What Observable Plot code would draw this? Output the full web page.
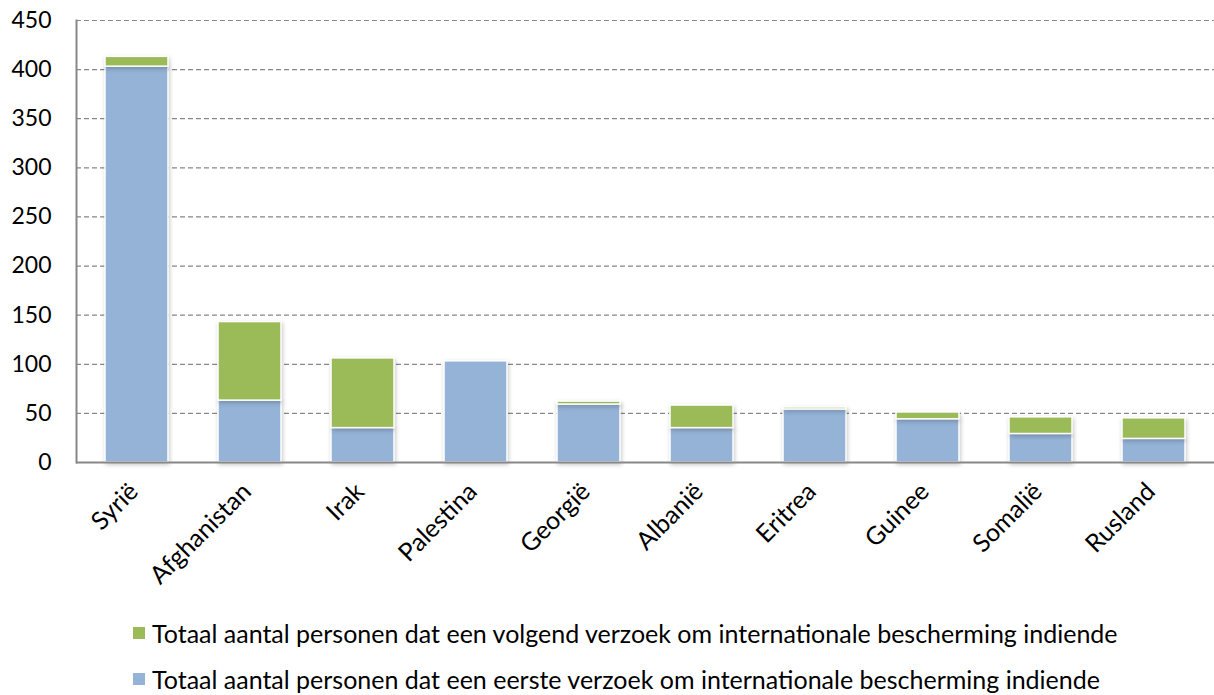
<!DOCTYPE html>
<html>
<head>
<meta charset="utf-8">
<script src="https://cdn.jsdelivr.net/npm/d3@7"></script>
<script src="https://cdn.jsdelivr.net/npm/@observablehq/plot@0.6"></script>
<style>
  body { margin: 0; background: #fff; font-family: Lato, "Open Sans", sans-serif; overflow: hidden; }
  #chart svg { display: block; }
  #chart g[aria-label="bar"] rect { filter: drop-shadow(1px 2px 2px rgba(0,0,0,0.22)); }
  .legend { position: relative; height: 95px; font-size: 25px; color: #000; }
  .legend .row { position: absolute; left: 133px; display: flex; align-items: center; white-space: nowrap; line-height: 28px; }
  .legend .sw { width: 12px; height: 12px; margin-right: 7px; }
</style>
</head>
<body>
<div id="chart"></div>
<div class="legend">
  <div class="row" style="top: 19px;"><span class="sw" style="background:#9BBB59"></span><span id="l1"></span></div>
  <div class="row" style="top: 65px;"><span class="sw" style="background:#95B3D7"></span><span id="l2"></span></div>
</div>
<script>
const countries = ["Syrië", "Afghanistan", "Irak", "Palestina", "Georgië", "Albanië", "Eritrea", "Guinee", "Somalië", "Rusland"];
const eerste  = [403, 63, 35, 103, 59, 35, 54, 44, 29, 24];
const volgend = [10, 80, 71, 0, 3, 23, 2, 7, 17, 21];
const seriesNames = [
  "Totaal aantal personen dat een volgend verzoek om internationale bescherming indiende",
  "Totaal aantal personen dat een eerste verzoek om internationale bescherming indiende"
];
const seriesColors = ["#9BBB59", "#95B3D7"];
const yTicks = [0, 50, 100, 150, 200, 250, 300, 350, 400, 450];

document.getElementById("l1").textContent = seriesNames[0];
document.getElementById("l2").textContent = seriesNames[1];

const data = [];
countries.forEach((c, i) => data.push({country: c, series: seriesNames[1], value: eerste[i]}));
countries.forEach((c, i) => data.push({country: c, series: seriesNames[0], value: volgend[i]}));

const chart = Plot.plot({
  width: 1214,
  height: 600,
  marginTop: 20,
  marginBottom: 138,
  marginLeft: 76,
  marginRight: 0,
  style: { fontFamily: "Lato, 'Open Sans', sans-serif", fontSize: "23px", color: "#000", background: "#fff" },
  x: { domain: countries, paddingInner: 0.44, paddingOuter: 0.22, label: null },
  y: { domain: [0, 450], label: null },
  color: { domain: seriesNames, range: seriesColors },
  marks: [
    Plot.gridY(yTicks.filter(d => d > 0), { stroke: "#888", strokeOpacity: 1, strokeDasharray: "5,3", strokeWidth: 1.2 }),
    Plot.barY(data, { x: "country", y: "value", fill: "series", stroke: "#fff", strokeWidth: 1.5 }),
    Plot.ruleY([0], { stroke: "#888", strokeWidth: 2 }),
    Plot.frame({ anchor: "left", stroke: "#888", strokeWidth: 2 }),
    Plot.axisY({ ticks: yTicks, tickSize: 0, tickPadding: 25, tickFormat: d => String(d), label: null }),
    Plot.axisX({ tickSize: 0, tickRotate: -45, tickPadding: 25, dx: -3, fontSize: 25, label: null })
  ]
});
document.getElementById("chart").appendChild(chart);
</script>
</body>
</html>
